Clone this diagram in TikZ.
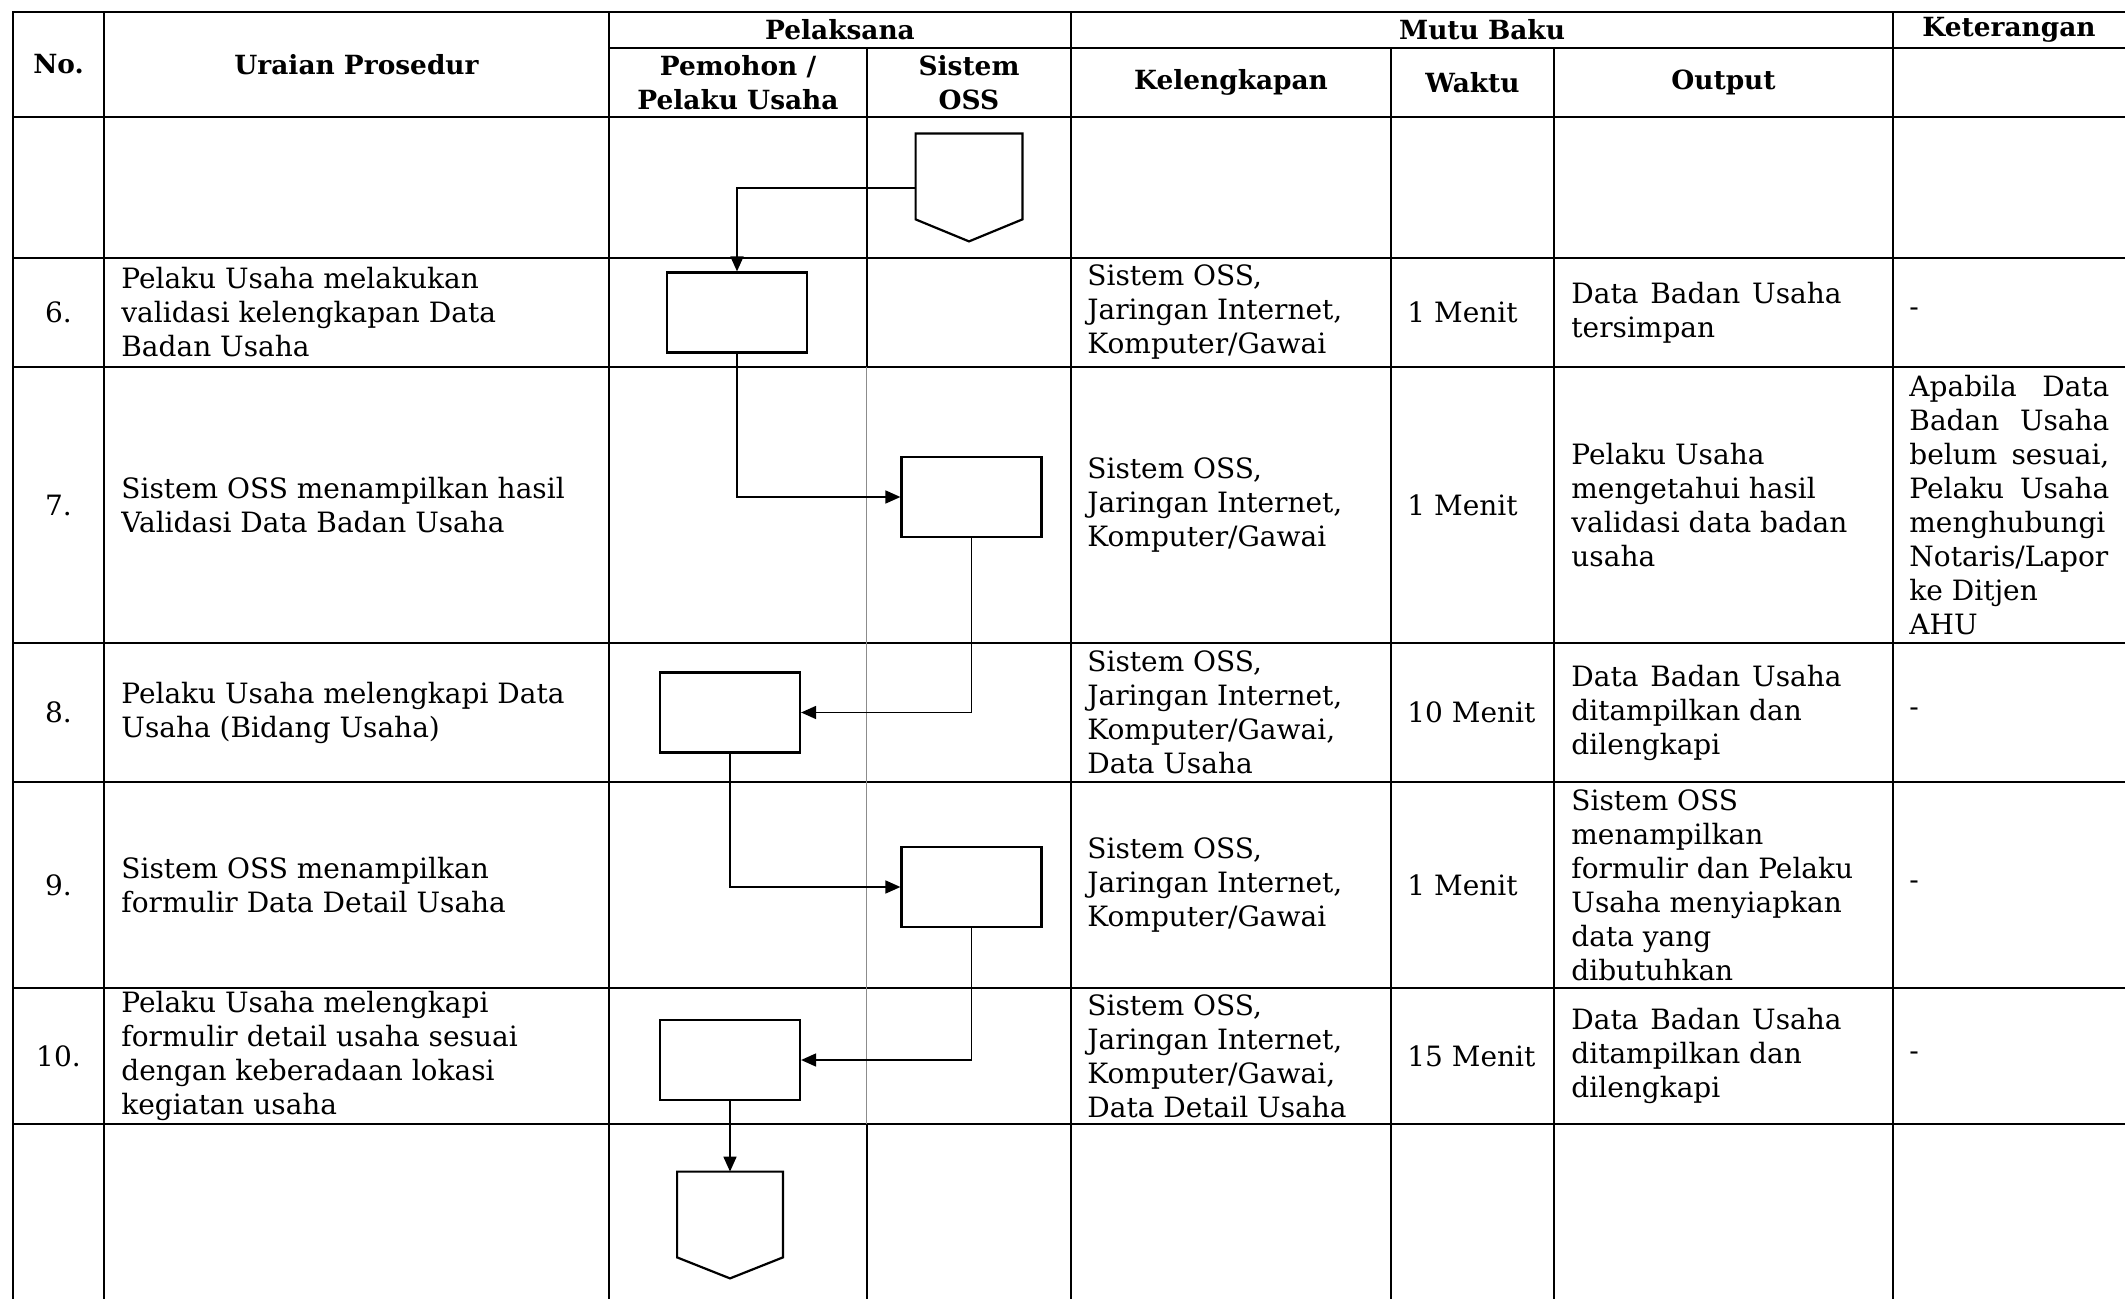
\documentclass[tikz,border=0pt]{standalone}
\usepackage{fontspec}
\setmainfont{DejaVu Serif}
\usetikzlibrary{arrows.meta,positioning}

\begin{document}
\begin{tikzpicture}[x=0.5pt,y=-0.5pt,
    grid/.style={line width=0.85pt},
    lanegray/.style={line width=0.5pt,draw=black!45},
    arr/.style={-{Triangle[length=7.5pt,width=6.5pt]},line width=0.85pt},
    proc/.style={draw,line width=1.1pt,minimum width=70pt,minimum height=40pt,inner sep=0pt},
    offpg/.style={minimum width=53pt,minimum height=42.5pt,inner sep=0pt},
    hd/.style={font=\bfseries\fontsize{13.2}{17}\selectfont,align=center,inner sep=0pt},
    txt/.style={font=\fontsize{14}{17}\selectfont,align=left,anchor=west,inner sep=0pt},
    num/.style={font=\fontsize{14}{17}\selectfont,inner sep=0pt}
  ]
  \useasboundingbox (0,0) rectangle (2125,1299);

  % table
  \draw[grid] (13,1300) -- (13,12) -- (2126,12);
  \draw[grid] (609,48) -- (2126,48);
  \draw[grid] (13,117) -- (2126,117) (13,258) -- (2126,258) (13,367) -- (2126,367)
    (13,643) -- (2126,643) (13,782) -- (2126,782) (13,988) -- (2126,988) (13,1124) -- (2126,1124);
  \draw[grid] (104,12) -- (104,1300) (609,12) -- (609,1300) (1071,12) -- (1071,1300)
    (1893,12) -- (1893,1300) (1391,48) -- (1391,1300) (1554,48) -- (1554,1300);
  \draw[grid] (867,48) -- (867,367) (867,1124) -- (867,1300);
  \draw[lanegray] (866,367) -- (866,1124);

  % header
  \node[hd] (hno) at (58.5,64.5) {No.};
  \node[hd] (hur) at (356.5,64.5) {Uraian Prosedur};
  \node[hd] (hpl) at (840,30) {Pelaksana};
  \node[hd] (hpm) at (738,82.5) {Pemohon /\\Pelaku Usaha};
  \node[hd] (hss) at (969,82.5) {Sistem\\OSS};
  \node[hd] (hmb) at (1482,30) {Mutu Baku};
  \node[hd] (hkt) at (2009,30) {Keterangan};
  \node[hd] (hkl) at (1231,82.5) {Kelengkapan};
  \node[hd] (hwk) at (1472.5,82.5) {Waktu};
  \node[hd] (hout) at (1723.5,82.5) {Output};

  % row 6
  \node[num] (n6) at (58.5,312.5) {6.};
  \node[txt] (u6) at (121,312.5) {Pelaku Usaha melakukan\\validasi kelengkapan Data\\Badan Usaha};
  \node[txt] (k6) at (1087,312.5) {Sistem OSS,\\Jaringan Internet,\\Komputer/Gawai};
  \node[txt] (w6) at (1407,312.5) {1 Menit};
  \node[txt] (o6) at (1571,312.5) {Data\hspace{1.5pt} Badan\hspace{1.5pt} Usaha\\tersimpan};
  \node[txt] (ket6) at (1909,312.5) {-};

  % row 7
  \node[num] (n7) at (58.5,505) {7.};
  \node[txt] (u7) at (121,505) {Sistem OSS menampilkan hasil\\Validasi Data Badan Usaha};
  \node[txt] (k7) at (1087,505) {Sistem OSS,\\Jaringan Internet,\\Komputer/Gawai};
  \node[txt] (w7) at (1407,505) {1 Menit};
  \node[txt] (o7) at (1571,505) {Pelaku Usaha\\mengetahui hasil\\validasi data badan\\usaha};
  \node[txt] (ket7) at (1909,505) {\makebox[100pt][s]{Apabila Data}\\\makebox[100pt][s]{Badan Usaha}\\
    \makebox[100pt][s]{belum sesuai,}\\\makebox[100pt][s]{Pelaku Usaha}\\menghubungi\\Notaris/Lapor\\ke Ditjen\\AHU};

  % row 8
  \node[num] (n8) at (58.5,712.5) {8.};
  \node[txt] (u8) at (121,712.5) {Pelaku Usaha melengkapi Data\\Usaha (Bidang Usaha)};
  \node[txt] (k8) at (1087,712.5) {Sistem OSS,\\Jaringan Internet,\\Komputer/Gawai,\\Data Usaha};
  \node[txt] (w8) at (1407,712.5) {10 Menit};
  \node[txt] (o8) at (1571,712.5) {Data\hspace{1.5pt} Badan\hspace{1.5pt} Usaha\\ditampilkan dan\\dilengkapi};
  \node[txt] (ket8) at (1909,712.5) {-};

  % row 9
  \node[num] (n9) at (58.5,885) {9.};
  \node[txt] (u9) at (121,885) {Sistem OSS menampilkan\\formulir Data Detail Usaha};
  \node[txt] (k9) at (1087,885) {Sistem OSS,\\Jaringan Internet,\\Komputer/Gawai};
  \node[txt] (w9) at (1407,885) {1 Menit};
  \node[txt] (o9) at (1571,885) {Sistem OSS\\menampilkan\\formulir dan Pelaku\\Usaha menyiapkan\\data yang\\dibutuhkan};
  \node[txt] (ket9) at (1909,885) {-};

  % row 10
  \node[num] (n10) at (58.5,1056) {10.};
  \node[txt] (u10) at (121,1056) {Pelaku Usaha melengkapi\\formulir detail usaha sesuai\\dengan keberadaan lokasi\\kegiatan usaha};
  \node[txt] (k10) at (1087,1056) {Sistem OSS,\\Jaringan Internet,\\Komputer/Gawai,\\Data Detail Usaha};
  \node[txt] (w10) at (1407,1056) {15 Menit};
  \node[txt] (o10) at (1571,1056) {Data\hspace{1.5pt} Badan\hspace{1.5pt} Usaha\\ditampilkan dan\\dilengkapi};
  \node[txt] (ket10) at (1909,1056) {-};

  % flow
  \node[offpg] (ctop) at (969,176.5) {};
  \draw[line width=1.1pt] (ctop.north west) -- (ctop.north east) -- (ctop.south east)
    -- ([yshift=-11pt]ctop.south) -- (ctop.south west) -- cycle;
  \coordinate (ctopout) at ([yshift=-5.75pt]ctop.west);
  \node[proc] (b6) at (737,312.5) {};
  \node[proc] (b7) at (971.5,497) {};
  \node[proc] (b8) at (730,712.5) {};
  \node[proc] (b9) at (971.5,887) {};
  \node[proc] (b10) at (730,1060) {};
  \node[offpg,minimum width=52.5pt] (cbot) at (730,1214.5) {};
  \draw[line width=1.1pt] (cbot.north west) -- (cbot.north east) -- (cbot.south east)
    -- ([yshift=-10.5pt]cbot.south) -- (cbot.south west) -- cycle;

  \draw[arr] (ctopout) -| (b6.north);
  \draw[arr] (b6.south) |- (b7.west);
  \draw[arr] (b7.south) |- (b8.east);
  \draw[arr] (b8.south) |- (b9.west);
  \draw[arr] (b9.south) |- (b10.east);
  \draw[arr] (b10.south) -- (cbot.north);
\end{tikzpicture}
\end{document}
